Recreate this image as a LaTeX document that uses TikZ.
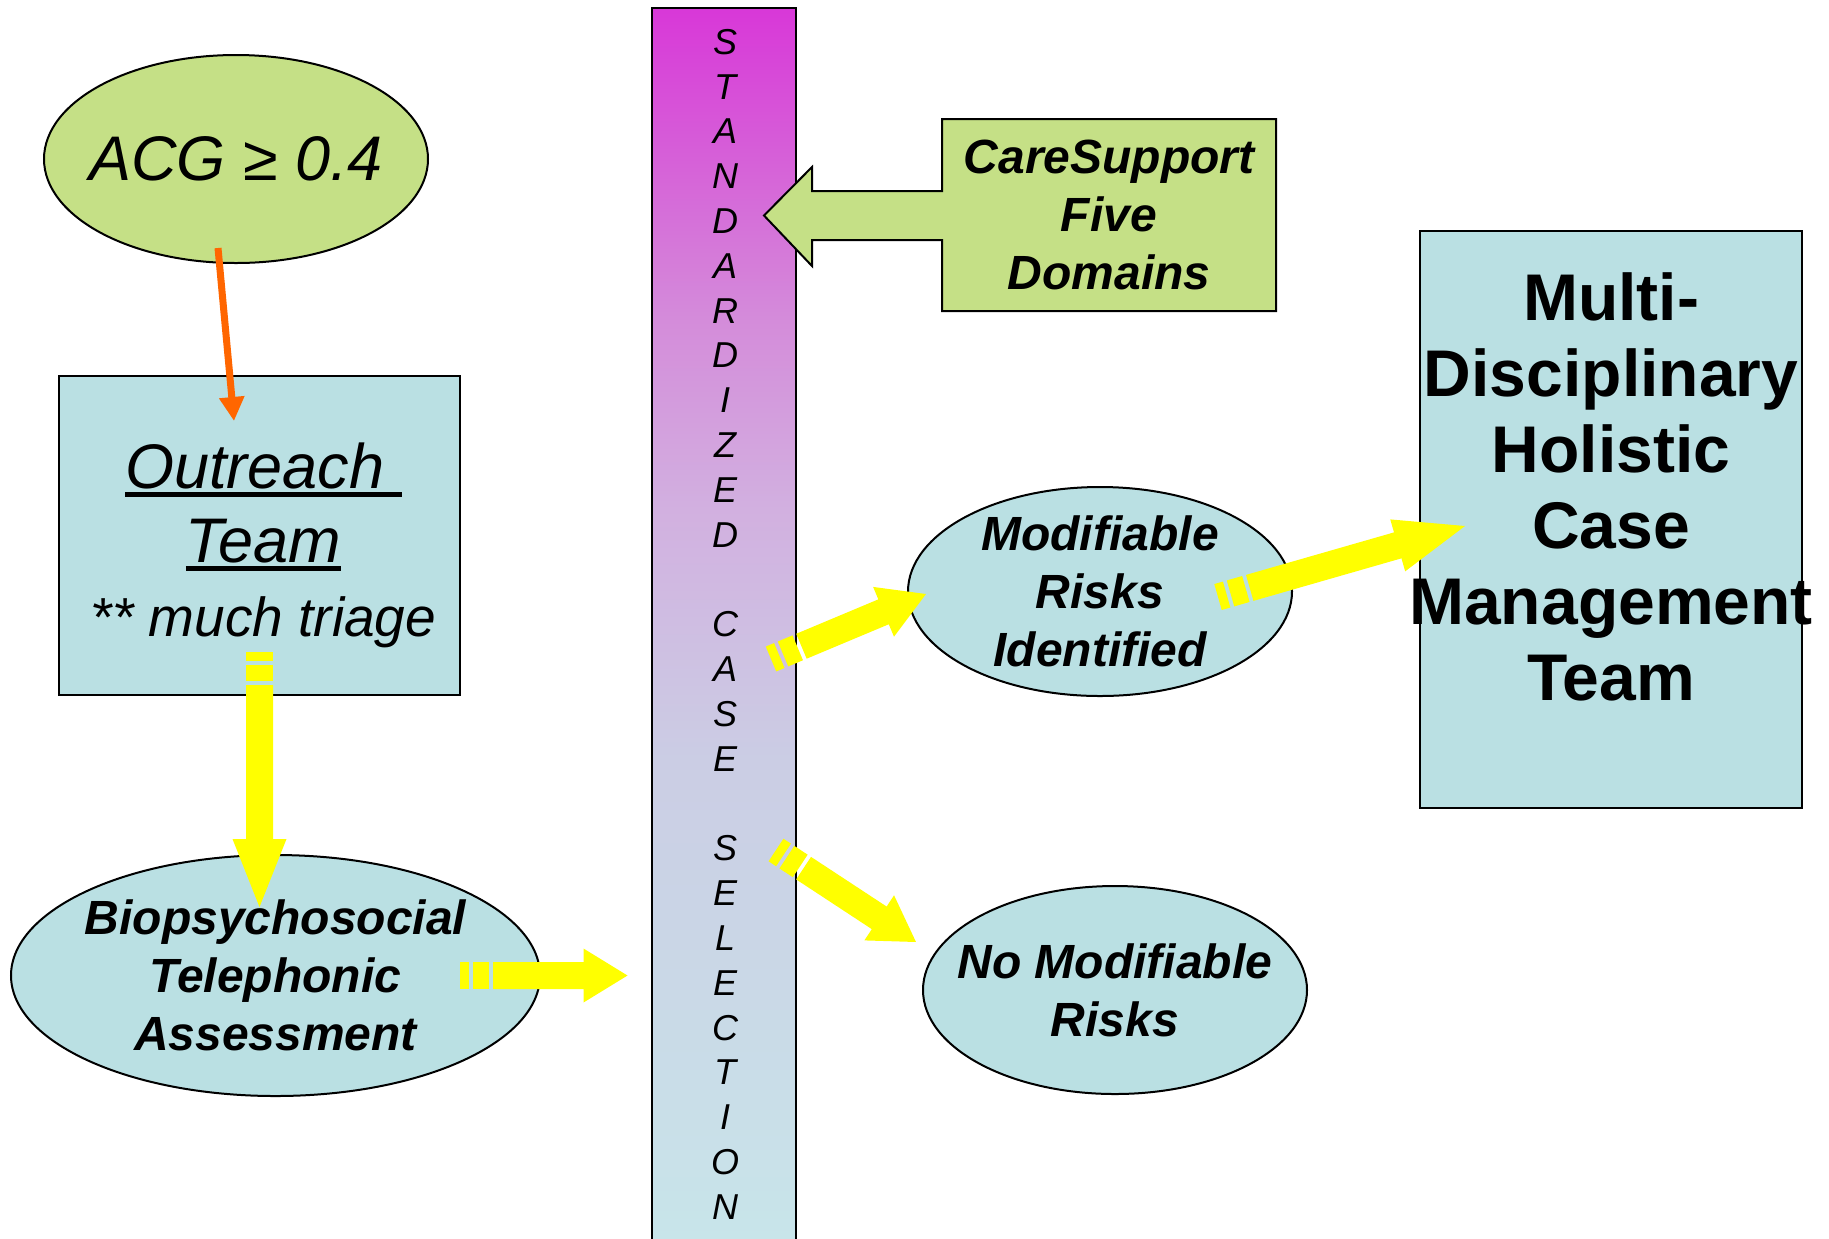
\documentclass[tikz,border=0pt]{standalone}
\usepackage{fontspec}
\setmainfont{Liberation Sans}
\usetikzlibrary{shapes.geometric}
\usetikzlibrary{calc}
\usetikzlibrary{arrows.meta}
\usetikzlibrary{positioning}

\definecolor{boxblue}{RGB}{186,224,227}
\definecolor{boxgreen}{RGB}{197,224,134}
\definecolor{arrowyellow}{RGB}{255,255,0}
\definecolor{arroworange}{RGB}{255,102,0}
\definecolor{bartop}{RGB}{216,56,216}
\definecolor{barupper}{RGB}{214,96,216}
\definecolor{barhigh}{RGB}{212,140,218}
\definecolor{barmid}{RGB}{210,176,224}
\definecolor{barlow}{RGB}{203,205,228}
\definecolor{barbot}{RGB}{200,230,234}

\pgfdeclareverticalshading{barshade}{100bp}{color(0bp)=(barbot); color(25bp)=(barbot);
  color(45bp)=(barlow); color(55bp)=(barmid); color(62.5bp)=(barhigh);
  color(69bp)=(barupper); color(75bp)=(bartop); color(100bp)=(bartop)}

\newcommand{\thickul}[1]{\leavevmode\vtop{\hbox{#1}\kern1.6pt\hrule height 2.3pt}}

% yellow striped block arrow from #1 to #2, head length #3 (pt)
\newcommand{\stripearrow}[3]{%
  \pgfmathanglebetweenpoints{\pgfpointanchor{#1}{center}}{\pgfpointanchor{#2}{center}}%
  \let\sarang\pgfmathresult
  \pgfpointdiff{\pgfpointanchor{#1}{center}}{\pgfpointanchor{#2}{center}}%
  \pgfgetlastxy{\sardx}{\sardy}%
  \pgfmathveclen{\sardx}{\sardy}%
  \let\sarlen\pgfmathresult
  \pgfmathsetmacro{\sarbase}{\sarlen-#3}%
  \begin{scope}[shift={(#1)}, rotate=\sarang]
    \fill[arrowyellow] (0pt,-6.75pt) rectangle (4.5pt,6.75pt);
    \fill[arrowyellow] (6.5pt,-6.75pt) rectangle (14.5pt,6.75pt);
    \fill[arrowyellow] (16.5pt,-6.75pt) -- (\sarbase pt,-6.75pt) -- (\sarbase pt,-13.5pt)
      -- (\sarlen pt,0pt) -- (\sarbase pt,13.5pt) -- (\sarbase pt,6.75pt) -- (16.5pt,6.75pt) -- cycle;
  \end{scope}}

\tikzset{
  outline/.style={draw=black, line width=1pt},
  oval/.style={ellipse, outline, fill=boxblue, inner sep=0pt},
  ovaltext/.style={align=center, inner sep=0pt, font=\fontsize{24}{29}\selectfont\bfseries\itshape},
  barletter/.style={font=\fontsize{18}{18}\selectfont\itshape, inner sep=0pt},
  orangeline/.style={arroworange, line width=3.5pt, -{Triangle[length=12pt,width=12pt]}}
}

\begin{document}
\begin{tikzpicture}[x=0.5pt, y=-0.5pt]
            \useasboundingbox (0,0) rectangle (1829,1238);
            \fill[white] (0,0) rectangle (1829,1238);

            % Selection bar
            \node[outline, shade, shading=barshade, minimum width=72pt, minimum height=626pt,
                  inner sep=0pt] (bar) at (724,634) {};
            \foreach \ch [count=\i from 0] in {S,T,A,N,D,A,R,D,I,Z,E,D,{},C,A,S,E,{},S,E,L,E,C,T,I,O,N} {
                \node[barletter] (letter\i) at (725,{42+44.8*\i}) {\ch};
            }

            % CareSupport box with block arrow
            \filldraw[boxgreen, outline] (942,119) -- (1276,119) -- (1276,311) -- (942,311)
                -- (942,240) -- (812,240) -- (812,266) -- (764,215.5) -- (812,167)
                -- (812,191) -- (942,191) -- cycle;
            \node[align=center, minimum width=167pt, minimum height=96pt, inner sep=0pt,
                  font=\fontsize{24}{29}\selectfont\bfseries\itshape] (care) at (1109,215)
                  {CareSupport\\Five\\Domains};

            % Left column
            \node[ellipse, outline, fill=boxgreen, minimum width=192pt, minimum height=104pt,
                  inner sep=0pt, label={[name=acgtext, inner sep=0pt, font=\fontsize{31.5}{38}\selectfont\itshape]center:ACG ≥ 0.4}]
                  (acg) at (236,159) {};
            \node[outline, fill=boxblue, minimum width=200.5pt, minimum height=159.5pt,
                  label={[name=outreachtext, align=center, inner sep=0pt, xshift=2pt, yshift=-5pt,
                    font=\fontsize{31.5}{37}\selectfont\itshape]center:{\thickul{Outreach\ }\\\thickul{Team}\\{\fontsize{27.5}{37}\selectfont ** much triage}}}]
                  (outreach) at (259.5,535.5) {};
            \node[oval, minimum width=264.5pt, minimum height=120.5pt,
                  label={[name=biotext, ovaltext]center:{Biopsychosocial\\Telephonic\\Assessment}}]
                  (bio) at (275.5,975.5) {};

            % Right column
            \node[oval, minimum width=192pt, minimum height=104.5pt,
                  label={[name=modtext, ovaltext]center:{Modifiable\\Risks\\Identified}}]
                  (mod) at (1100,591.5) {};
            \node[oval, minimum width=192pt, minimum height=104pt,
                  label={[name=nomodtext, ovaltext]center:{No Modifiable\\Risks}}]
                  (nomod) at (1115,990) {};
            \node[outline, fill=boxblue, minimum width=191pt, minimum height=288.5pt] (mdt) at (1611,519.5) {};
            \node[align=center, font=\fontsize{33}{38}\selectfont\bfseries] (mdtlabel)
                  at ($(mdt.center)+(0,-33)$)
                  {Multi-\\Disciplinary\\Holistic\\Case\\Management\\Team};

            % Orange arrow
            \coordinate (acgfoot) at ($(acg.south)+(-18,-16)$);
            \coordinate (outtop) at ($(outreach.north)+(-25.5,46)$);
            \draw[orangeline] (acgfoot) -- (outtop);

            % Yellow striped arrows
            \coordinate (outfoot) at ($(outreach.south)+(0,-44)$);
            \coordinate (biotop) at ($(bio.north)+(-16,53)$);
            \stripearrow{outfoot}{biotop}{34}

            \coordinate (bioright) at ($(bio.east)+(-81,0)$);
            \coordinate (barleft) at ($(bio.east -| bar.west)+(-23.5,0)$);
            \stripearrow{bioright}{barleft}{22}

            \coordinate (barmodstart) at ($(bar.east)+(-26,25)$);
            \coordinate (modleft) at ($(mod.west)+(19,2.5)$);
            \stripearrow{barmodstart}{modleft}{23}

            \coordinate (modright) at ($(mod.east)+(-75,5.5)$);
            \coordinate (mdtleft) at ($(mdt.west)+(46,6.5)$);
            \stripearrow{modright}{mdtleft}{35}

            \coordinate (barnomodstart) at ($(bar.east)+(-21,216)$);
            \coordinate (nomodleft) at ($(nomod.west)+(-6,-48)$);
            \stripearrow{barnomodstart}{nomodleft}{22}

        \end{tikzpicture}
\end{document}
